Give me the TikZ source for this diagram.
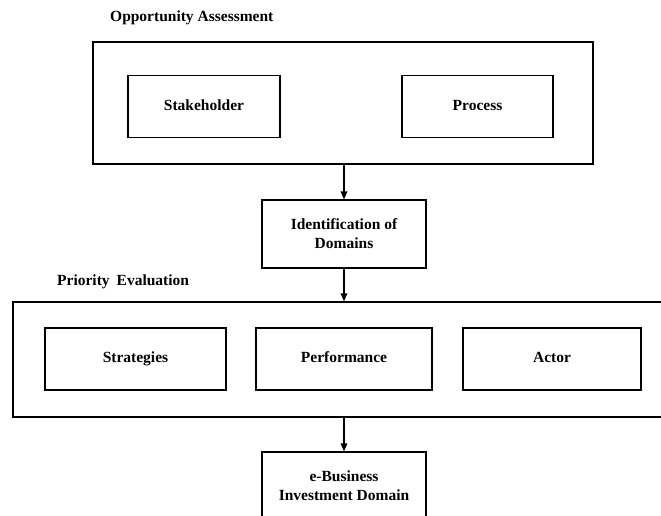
\documentclass[tikz,border=0pt]{standalone}
\usepackage{fontspec}
\setmainfont{Liberation Serif}
\usetikzlibrary{arrows.meta}
\begin{document}
\begin{tikzpicture}[x=1pt,y=-1pt,
  every node/.style={font=\fontsize{15.5}{19}\selectfont\bfseries},
  group/.style={draw=black,line width=1.2pt,inner sep=0pt},
  item/.style={draw=black,line width=1.1pt,inner sep=0pt,align=center,minimum height=62pt,text height=10.5pt,text depth=3.5pt},
  stage/.style={draw=black,line width=1.1pt,inner sep=0pt,align=center,minimum width=164pt,minimum height=68pt},
  title/.style={anchor=west,inner sep=0pt},
  flow/.style={line width=1.1pt,-{Triangle[length=8pt,width=6.5pt]}}]
\useasboundingbox (0,0) rectangle (661,515);

% Opportunity assessment group
\node[title] (oatitle) at (110,17.5) {Opportunity Assessment};
\node[group,minimum width=500pt,minimum height=122pt] (oa) at (343,103) {};
\node[item,minimum width=152pt] (stake) at (204,106.5) {Stakeholder};
\node[item,minimum width=151pt] (proc) at (477.5,106.5) {Process};

% Identification step
\node[stage] (ident) at (344,234) {Identification of\\Domains};

% Priority evaluation group (runs past the right edge)
\node[title] (petitle) at (57,282) {Priority\hspace{0.45em}Evaluation};
\node[group,minimum width=667pt,minimum height=115pt] (pe) at (346.5,359.5) {};
\node[item,minimum width=181pt] (strat) at (135.5,359) {Strategies};
\node[item,minimum width=176pt] (perf) at (344,359) {Performance};
\node[item,minimum width=178pt] (actor) at (552,359) {Actor};

% Result
\node[stage] (ebiz) at (344,486) {e-Business\\Investment Domain};

% Connectors
\draw[flow] (ident.north |- oa.south) -- (ident.north);
\draw[flow] (ident.south) -- (ident.south |- pe.north);
\draw[flow] (ebiz.north |- pe.south) -- (ebiz.north);
\end{tikzpicture}
\end{document}
